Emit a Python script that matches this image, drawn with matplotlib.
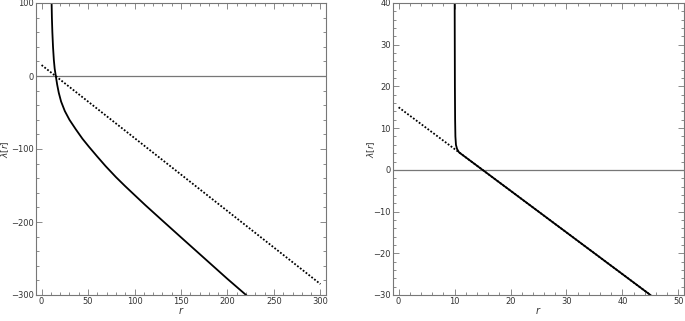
import numpy as np
import matplotlib.pyplot as plt
from matplotlib.ticker import MultipleLocator

# left panel
r_left = [10.8, 11.1, 11.6, 12.3, 13.2, 14.1, 15.3, 16.8, 18.5, 21, 25, 30, 36.8,
          44, 51, 60, 68.9, 80, 90, 100, 111.7, 129.5, 150, 175, 200, 220]
lam_left = [100, 80, 60, 40, 22, 10, 0, -12, -23, -35, -48, -60, -73,
            -86, -97, -110.5, -123.5, -138.5, -151, -163, -177, -197.5, -221, -249.5, -278, -300]
r_left_dot = [0, 300]
lam_left_dot = [15, -285]

# right panel
r_right = [10.02, 10.04, 10.06, 10.1, 10.15, 10.25, 10.45, 10.8, 11.5, 45]
lam_right = [40, 30, 20, 12, 8, 6, 5, 4.2, 3.5, -30]
r_right_dot = [0, 45]
lam_right_dot = [15, -30]

fc = '#777777'
tc = '#333333'

fig = plt.figure(figsize=(6.85, 3.21), dpi=100)
ax1 = fig.add_axes([36/685, 1-295/321, 290/685, 292/321])
ax2 = fig.add_axes([393/685, 1-295/321, 291/685, 292/321])

def style(ax, xmaj, xmin, ymaj, ymin):
	for s in ax.spines.values():
		s.set_color(fc)
		s.set_linewidth(0.8)
	ax.xaxis.set_major_locator(MultipleLocator(xmaj))
	ax.xaxis.set_minor_locator(MultipleLocator(xmin))
	ax.yaxis.set_major_locator(MultipleLocator(ymaj))
	ax.yaxis.set_minor_locator(MultipleLocator(ymin))
	ax.tick_params(which='both', direction='in', top=True, right=True, color=fc,
	               labelsize=6, labelcolor=tc, width=0.6, pad=1.5)
	ax.tick_params(which='major', length=4)
	ax.tick_params(which='minor', length=2)
	ax.axhline(0, color=fc, lw=0.9, zorder=1)

ax1.plot(r_left_dot, lam_left_dot, color='black', lw=1.3, ls=(0, (1, 1)))
ax1.plot(r_left, lam_left, color='black', lw=1.3)
ax1.set_xlim(-6, 306)
ax1.set_ylim(-300, 100)
style(ax1, 50, 10, 100, 20)

ax2.plot(r_right_dot, lam_right_dot, color='black', lw=1.3, ls=(0, (1, 1)))
ax2.plot(r_right, lam_right, color='black', lw=1.3)
ax2.set_xlim(-1, 51)
ax2.set_ylim(-30, 40)
style(ax2, 10, 2, 10, 2)

# axis labels
fig.text(181/685, 1-311/321, '$r$', fontsize=7, color=tc, ha='center', va='center')
fig.text(538/685, 1-311/321, '$r$', fontsize=7, color=tc, ha='center', va='center')
fig.text(5/685, 1-149/321, r'$\lambda[r]$', fontsize=6.5, color=tc, ha='center', va='center', rotation=90)
fig.text(371/685, 1-149/321, r'$\lambda[r]$', fontsize=6.5, color=tc, ha='center', va='center', rotation=90)

fig.savefig('out.png', dpi=100)
